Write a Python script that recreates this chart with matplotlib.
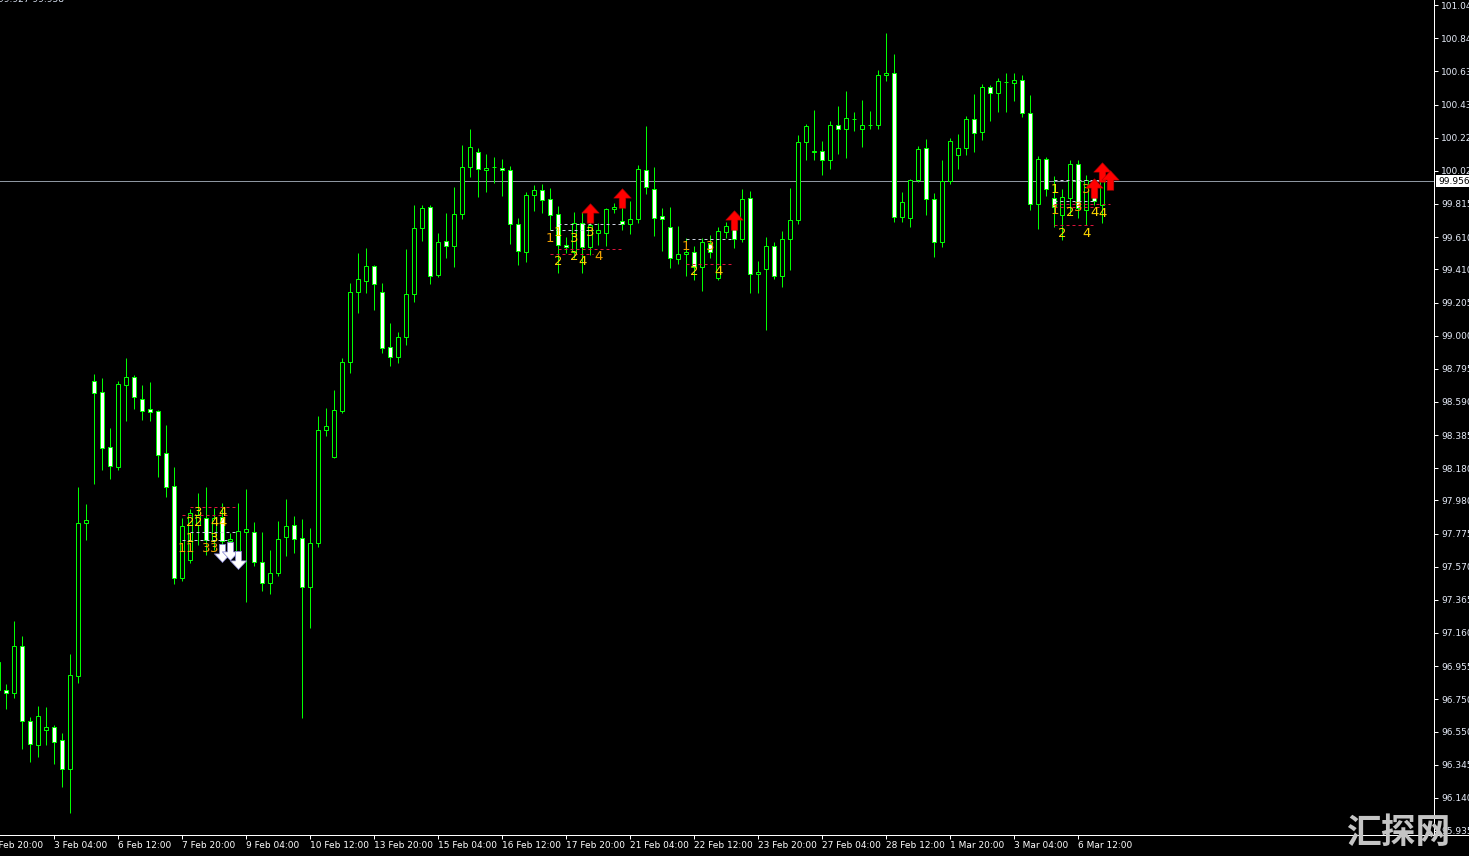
import numpy as np
import matplotlib
matplotlib.use("Agg")
import matplotlib.pyplot as plt
import matplotlib.transforms as mtransforms
from matplotlib.patches import Rectangle
from matplotlib.path import Path
from matplotlib.lines import Line2D

# ---- OHLC data (H bars, first bar is the one cut by the left edge) ----
first_bar = -1
opens = [
    96.807,
    96.807, 96.789, 97.080, 96.616, 96.467, 96.560, 96.578, 96.498, 96.318, 96.894,
    97.841, 98.719, 98.651, 98.311, 98.187, 98.695, 98.744, 98.608, 98.546, 98.534,
    98.274, 98.070, 97.500, 97.612, 97.828, 97.872, 97.736, 97.878, 97.729, 97.661,
    97.785, 97.785, 97.599, 97.469, 97.531, 97.754, 97.828, 97.748, 97.445, 97.717,
    98.416, 98.249, 98.534, 98.837, 99.270, 99.338, 99.431, 99.270, 98.930, 98.868,
    98.992, 99.258, 99.666, 99.796, 99.375, 99.586, 99.555, 99.753, 100.044, 100.136,
    100.025, 100.044, 100.037, 100.025, 99.691, 99.518, 99.870, 99.901, 99.846, 99.753,
    99.561, 99.518, 99.697, 99.549, 99.635, 99.635, 99.784, 99.710, 99.691, 99.722,
    100.025, 99.908, 99.740, 99.672, 99.474, 99.505, 99.518, 99.425, 99.573, 99.357,
    99.641, 99.672, 99.598, 99.852, 99.382, 99.412, 99.555, 99.369, 99.598, 99.716,
    100.198, 100.136, 100.143, 100.087, 100.304, 100.279, 100.341, 100.279, 100.304, 100.304,
    100.613, 100.625, 99.734, 99.728, 99.963, 100.161, 99.846, 99.580, 99.957, 100.118,
    100.161, 100.341, 100.260, 100.539, 100.502, 100.570, 100.563, 100.582, 100.378, 99.815,
    100.093, 99.852, 99.747, 99.852, 100.062, 99.778, 99.877, 99.809, 99.945,
]
highs = [
    96.987,
    96.844, 97.234, 97.141, 96.640, 96.708, 96.702, 96.591, 96.541, 97.030, 98.063,
    97.958, 98.763, 98.738, 98.429, 98.719, 98.862, 98.757, 98.695, 98.713, 98.540,
    98.447, 98.187, 97.872, 97.927, 98.026, 98.063, 97.934, 97.964, 97.779, 97.964,
    98.051, 97.847, 97.785, 97.674, 97.853, 97.989, 97.884, 97.865, 97.810, 98.503,
    98.552, 98.664, 98.862, 99.326, 99.511, 99.542, 99.437, 99.326, 99.078, 99.023,
    99.536, 99.809, 99.809, 99.809, 99.635, 99.759, 99.920, 100.180, 100.279, 100.161,
    100.124, 100.106, 100.093, 100.050, 99.728, 99.889, 99.932, 99.938, 99.914, 99.802,
    99.610, 99.765, 99.765, 99.765, 99.697, 99.790, 99.821, 99.877, 99.833, 100.056,
    100.297, 100.044, 99.790, 99.796, 99.679, 99.604, 99.555, 99.604, 99.623, 99.672,
    99.703, 99.716, 99.908, 99.895, 99.462, 99.610, 99.580, 99.648, 99.914, 100.242,
    100.310, 100.396, 100.205, 100.328, 100.421, 100.514, 100.384, 100.458, 100.390, 100.644,
    100.873, 100.743, 99.889, 99.969, 100.174, 100.217, 99.883, 100.087, 100.223, 100.248,
    100.359, 100.495, 100.557, 100.551, 100.594, 100.625, 100.625, 100.613, 100.489, 100.112,
    100.106, 99.988, 99.908, 100.087, 100.087, 99.994, 99.932, 99.994, 99.976,
]
lows = [
    96.795,
    96.690, 96.758, 96.442, 96.362, 96.393, 96.467, 96.349, 96.207, 96.046, 96.851,
    97.736, 98.082, 98.169, 98.113, 98.169, 98.472, 98.546, 98.478, 98.472, 98.125,
    98.002, 97.463, 97.482, 97.593, 97.705, 97.643, 97.674, 97.686, 97.686, 97.612,
    97.352, 97.575, 97.420, 97.401, 97.513, 97.637, 97.655, 96.634, 97.191, 97.692,
    98.379, 98.243, 98.521, 98.769, 99.140, 99.264, 99.159, 98.893, 98.812, 98.831,
    98.942, 99.208, 99.586, 99.320, 99.363, 99.481, 99.425, 99.722, 99.982, 99.858,
    99.889, 99.945, 99.864, 99.567, 99.437, 99.456, 99.771, 99.759, 99.654, 99.388,
    99.511, 99.481, 99.388, 99.499, 99.561, 99.555, 99.759, 99.654, 99.629, 99.697,
    99.877, 99.617, 99.524, 99.419, 99.443, 99.369, 99.344, 99.276, 99.481, 99.344,
    99.604, 99.542, 99.580, 99.264, 99.264, 99.035, 99.351, 99.301, 99.406, 99.691,
    100.087, 100.087, 99.994, 100.031, 100.124, 100.099, 100.266, 100.167, 100.279, 100.279,
    100.576, 99.703, 99.703, 99.672, 99.951, 99.747, 99.487, 99.549, 99.938, 100.031,
    100.118, 100.136, 100.211, 100.328, 100.384, 100.384, 100.452, 100.353, 99.778, 99.660,
    99.864, 99.672, 99.592, 99.747, 99.728, 99.685, 99.809, 99.697, 99.926,
]
closes = [
    96.981,
    96.789, 97.080, 96.616, 96.473, 96.646, 96.578, 96.486, 96.318, 96.900, 97.841,
    97.859, 98.645, 98.305, 98.193, 98.701, 98.744, 98.620, 98.534, 98.528, 98.262,
    98.063, 97.500, 97.822, 97.903, 97.890, 97.736, 97.872, 97.729, 97.742, 97.791,
    97.804, 97.599, 97.469, 97.531, 97.742, 97.822, 97.742, 97.445, 97.717, 98.416,
    98.441, 98.540, 98.837, 99.270, 99.351, 99.431, 99.320, 98.924, 98.868, 98.992,
    99.258, 99.666, 99.790, 99.369, 99.580, 99.555, 99.753, 100.044, 100.167, 100.031,
    100.037, 100.041, 100.025, 99.691, 99.524, 99.870, 99.901, 99.840, 99.747, 99.561,
    99.549, 99.697, 99.549, 99.685, 99.654, 99.784, 99.796, 99.691, 99.722, 100.031,
    99.920, 99.728, 99.722, 99.481, 99.505, 99.518, 99.425, 99.580, 99.518, 99.648,
    99.679, 99.598, 99.846, 99.382, 99.394, 99.555, 99.369, 99.598, 99.716, 100.198,
    100.297, 100.143, 100.087, 100.304, 100.279, 100.347, 100.338, 100.304, 100.301, 100.613,
    100.625, 99.734, 99.827, 99.963, 100.155, 99.846, 99.580, 99.957, 100.205, 100.161,
    100.341, 100.254, 100.539, 100.502, 100.576, 100.567, 100.582, 100.378, 99.815, 100.093,
    99.908, 99.796, 99.858, 100.062, 99.790, 99.963, 99.833, 99.957, 99.956,
]
last_price = 99.956
last_label = "99.956"
corner_text = "99.927 99.958"

# ---- axis labels ----
date_bars = [-2, 6, 14, 22, 30, 38, 46, 54, 62, 70, 78, 86, 94, 102, 110, 118, 126, 134]
date_labels = ["2 Feb 20:00", "3 Feb 04:00", "6 Feb 12:00", "7 Feb 20:00", "9 Feb 04:00",
               "10 Feb 12:00", "13 Feb 20:00", "15 Feb 04:00", "16 Feb 12:00", "17 Feb 20:00",
               "21 Feb 04:00", "22 Feb 12:00", "23 Feb 20:00", "27 Feb 04:00", "28 Feb 12:00",
               "1 Mar 20:00", "3 Mar 04:00", "6 Mar 12:00"]
price_ticks = [101.045, 100.840, 100.635, 100.430, 100.225, 100.020, 99.815, 99.610, 99.410,
               99.205, 99.000, 98.795, 98.590, 98.385, 98.180, 97.980, 97.775, 97.570,
               97.365, 97.160, 96.955, 96.750, 96.550, 96.345, 96.140, 95.935]

# ---- pattern annotations (digits, levels, arrows) ----
yellow_digits = ["3", "4", "2", "2", "4", "4", "1", "3",
                 "1", "3", "3", "2", "2", "4",
                 "2", "4",
                 "1", "2", "4", "4", "2", "4"]
yellow_bars = [24, 27, 23, 24, 26, 27, 23, 26,
               69, 71, 73, 69, 71, 72,
               86, 89,
               131, 133, 136, 137, 132, 135]
yellow_prices = [97.903, 97.903, 97.841, 97.841, 97.841, 97.841, 97.742, 97.742,
                 99.641, 99.604, 99.641, 99.456, 99.487, 99.456,
                 99.394, 99.394,
                 99.907, 99.759, 99.759, 99.753, 99.635, 99.635]

orange_digits = ["1", "1", "3", "3", "1", "4", "1", "3", "3", "1", "3"]
orange_bars = [22, 23, 25, 26, 68, 74, 85, 88, 135, 131, 134]
orange_prices = [97.680, 97.680, 97.680, 97.680, 99.604, 99.487, 99.549, 99.549,
                 99.907, 99.777, 99.790]

grey_start = [23, 22, 69, 68, 85, 131, 131]
grey_end = [28.6, 27.6, 77, 73.3, 90.7, 138, 135.9]
grey_level = [97.785, 97.736, 99.691, 99.654, 99.598, 99.961, 99.833]

red_start = [23, 22, 69, 68, 85, 131, 131, 131]
red_end = [28.6, 27.6, 77, 73.3, 90.7, 138, 137, 135.9]
red_level = [97.940, 97.890, 99.536, 99.505, 99.443, 99.815, 99.798, 99.685]

up_bars = [73, 77, 91, 136, 137, 138]
up_prices = [99.759, 99.852, 99.716, 99.914, 100.013, 99.963]
down_bars = [27, 28, 29]
down_prices = [97.655, 97.667, 97.612]

# ---- drawing ----
GREEN = "#00ff00"
PX = 0.72  # one pixel in points at 100 dpi
W, H = 1469, 856

fig = plt.figure(figsize=(W / 100, H / 100), dpi=100, facecolor="black")
ax = fig.add_axes([0, 21 / H, 1434 / W, 835 / H], facecolor="black")

bars = np.arange(first_bar, first_bar + len(opens))
ax.vlines(bars, lows, highs, colors=GREEN, lw=PX, zorder=2)
for b, o, c in zip(bars, opens, closes):
    lo, hi = min(o, c), max(o, c)
    face = "white" if c < o else "black"
    ax.add_patch(Rectangle((b - 0.27, lo), 0.54, hi - lo, facecolor=face,
                           edgecolor=GREEN, lw=PX, zorder=3))

# current price line
ax.axhline(last_price, color="#8d96a0", lw=PX, zorder=1)

# pattern levels
ax.hlines(grey_level, grey_start, grey_end, colors="#c8cedb", lw=PX,
          linestyles=(0, (3, 3)), zorder=4)
ax.hlines(red_level, red_start, red_end, colors="#dc143c", lw=PX,
          linestyles=(0, (3, 3)), zorder=4)

for d, b, p in zip(yellow_digits, yellow_bars, yellow_prices):
    ax.text(b, p, d, color="#ffd700", fontsize=9.5, ha="center", va="center", zorder=5)
for d, b, p in zip(orange_digits, orange_bars, orange_prices):
    ax.text(b, p, d, color="#f0a000", fontsize=9.5, ha="center", va="center", zorder=5)

# arrows
up_verts = [(0, 0.5), (0.45, 0.02), (0.17, 0.02), (0.17, -0.5),
            (-0.17, -0.5), (-0.17, 0.02), (-0.45, 0.02), (0, 0.5)]
codes = [Path.MOVETO] + [Path.LINETO] * 6 + [Path.CLOSEPOLY]
up_arrow = Path(up_verts, codes)
down_arrow = Path([(x, -y) for x, y in up_verts], codes)
ax.scatter(up_bars, up_prices, marker=up_arrow, s=14 ** 2, c="#ff0000",
           edgecolors="#b00000", linewidths=0.4, zorder=6)
ax.scatter(down_bars, down_prices, marker=down_arrow, s=13 ** 2, c="white",
           edgecolors="#8080d0", linewidths=0.5, zorder=6)

# axes
for s in ["top", "left"]:
    ax.spines[s].set_visible(False)
for s in ["right", "bottom"]:
    ax.spines[s].set_color("white")
    ax.spines[s].set_linewidth(PX)

ax.yaxis.tick_right()
ax.set_yticks(price_ticks)
ax.set_yticklabels([f"{v:.3f}" for v in price_ticks])
ax.tick_params(axis="y", colors="white", length=3, width=PX, pad=2,
               labelsize=6.5, labelcolor="#e6ecf8")
ax.set_xticks(date_bars)
ax.set_xticklabels(date_labels, ha="left")
ax.tick_params(axis="x", colors="white", length=3, width=PX, pad=1.5,
               labelsize=6.5, labelcolor="white")
# limits after the ticks, so set_xticks does not widen the view
ax.set_xlim(-0.7875, 178.46)
ax.set_ylim(95.910, 101.077)

# first date label sits left of the view and is cut by the edge
xt = mtransforms.blended_transform_factory(ax.transData, ax.transAxes)
xt = mtransforms.offset_copy(xt, fig=fig, y=-4.5, units="points")
ax.text(date_bars[0], 0, date_labels[0], transform=xt, ha="left", va="top",
        fontsize=6.5, color="white", clip_on=False)

# price box on the scale
trans = mtransforms.blended_transform_factory(ax.transAxes, ax.transData)
ax.text(1.0 + 4 / 1434, last_price, last_label, transform=trans, ha="left",
        va="center", fontsize=6.5, color="black", zorder=7, clip_on=False,
        bbox=dict(facecolor="white", edgecolor="none", pad=1.2))

# bottom line across the full width
fig.add_artist(Line2D([0, 1], [21 / H, 21 / H], color="white", lw=PX))

# clipped indicator values in the corner
fig.text(-2 / W, 1 - 4 / H, corner_text, color="#dde6f5", fontsize=6.5,
         ha="left", va="bottom")

# watermark
fig.text(1398 / W, 1 - 832 / H, "汇探网", family=["Noto Sans CJK SC", "DejaVu Sans"],
         fontsize=25, fontweight="bold", color="#c4c4c4", ha="center", va="center")

fig.savefig("out.png", dpi=100, facecolor="black")
